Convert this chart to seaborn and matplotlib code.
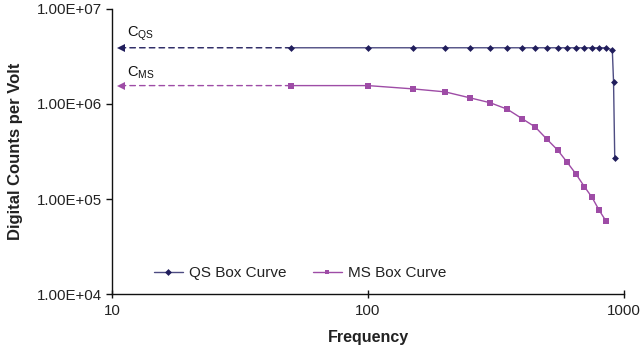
import numpy as np
import pandas as pd
import seaborn as sns
import matplotlib
matplotlib.use("Agg")
import matplotlib.pyplot as plt
from matplotlib.ticker import FixedLocator, NullLocator, FixedFormatter

# ---- data ----
qs_freq = [50, 100, 150, 200, 250, 300, 350, 400, 450, 500, 550, 600, 650,
           700, 750, 800, 850, 900, 910, 920]
qs_vals = [3.9e6, 3.9e6, 3.9e6, 3.9e6, 3.9e6, 3.9e6, 3.9e6, 3.9e6, 3.9e6,
           3.9e6, 3.9e6, 3.9e6, 3.9e6, 3.9e6, 3.9e6, 3.9e6, 3.9e6, 3.7e6,
           1.72e6, 2.68e5]
ms_freq = [50, 100, 150, 200, 250, 300, 350, 400, 450, 500, 550, 600, 650,
           700, 750, 800, 850]
ms_vals = [1.56e6, 1.56e6, 1.44e6, 1.34e6, 1.16e6, 1.03e6, 8.8e5, 7.0e5,
           5.72e5, 4.25e5, 3.28e5, 2.43e5, 1.82e5, 1.35e5, 1.04e5, 7.6e4,
           5.87e4]
x_ticks = [10, 100, 1000]
x_tick_labels = ["10", "100", "1000"]
y_ticks = [1e4, 1e5, 1e6, 1e7]
y_tick_labels = ["1.00E+04", "1.00E+05", "1.00E+06", "1.00E+07"]
series_names = ["QS Box Curve", "MS Box Curve"]
arrow_end = 10.8

QS_COLOR = "#211e5c"
QS_LINE = "#4d4c82"
MS_COLOR = "#9e4ca6"

sns.set_theme(style="white")
plt.rcParams["font.family"] = ["Liberation Sans", "DejaVu Sans"]

fig = plt.figure(figsize=(6.42, 3.56), dpi=100)
ax = fig.add_axes([0.1745, 0.174, 0.7975, 0.801])

qs_df = pd.DataFrame({"Frequency": qs_freq, "Counts": qs_vals})
ms_df = pd.DataFrame({"Frequency": ms_freq, "Counts": ms_vals})

sns.lineplot(data=qs_df, x="Frequency", y="Counts", ax=ax, color=QS_COLOR,
             marker="D", markersize=3.5, markeredgewidth=0, linewidth=1.0,
             label=series_names[0], sort=False)
sns.lineplot(data=ms_df, x="Frequency", y="Counts", ax=ax, color=MS_COLOR,
             marker="s", markersize=4, markeredgewidth=0, linewidth=1.0,
             label=series_names[1], sort=False)
ax.lines[0].set_color(QS_LINE)
ax.lines[0].set_markerfacecolor(QS_COLOR)

# dashed arrows to the axis
for freq, val, col, lab in [(qs_freq[0], qs_vals[0], QS_COLOR, r"C$_{\mathregular{QS}}$"),
                            (ms_freq[0], ms_vals[0], MS_COLOR, r"C$_{\mathregular{MS}}$")]:
    ax.annotate("", xy=(arrow_end, val), xytext=(freq, val),
                arrowprops=dict(arrowstyle="-", linestyle=(0, (4, 3)), color=col,
                                lw=1.0, shrinkA=0, shrinkB=0))
    ax.plot([arrow_end], [val], marker="<", color=col, markersize=6, markeredgewidth=0)
    ax.text(11.4, val * 1.12, lab, color="#111111", fontsize=10.5, ha="left", va="bottom")

ax.set_xscale("log")
ax.set_yscale("log")
ax.set_xlim(10, 1000)
ax.set_ylim(1e4, 1e7)
ax.xaxis.set_major_locator(FixedLocator(x_ticks))
ax.xaxis.set_major_formatter(FixedFormatter(x_tick_labels))
ax.xaxis.set_minor_locator(NullLocator())
ax.yaxis.set_major_locator(FixedLocator(y_ticks))
ax.yaxis.set_major_formatter(FixedFormatter(y_tick_labels))
ax.yaxis.set_minor_locator(NullLocator())

for s in ["top", "right"]:
    ax.spines[s].set_visible(False)
for s in ["left", "bottom"]:
    ax.spines[s].set_color("#111111")
    ax.spines[s].set_linewidth(1.0)

ax.tick_params(axis="x", direction="inout", length=6, width=1, color="#111111",
               labelsize=10.8, pad=4, bottom=True)
ax.tick_params(axis="y", direction="out", length=4, width=1, color="#111111",
               labelsize=10.8, pad=3, left=True)
for t in ax.get_xticklabels() + ax.get_yticklabels():
    t.set_color("#222222")

ax.set_xlabel("Frequency", fontsize=11.5, fontweight="bold", color="#222222", labelpad=9)
ax.set_ylabel("Digital Counts per Volt", fontsize=12, fontweight="bold", color="#222222", labelpad=10)
ax.grid(False)

leg = ax.legend(loc="lower left", bbox_to_anchor=(0.055, 0.0), ncol=2, frameon=False,
                fontsize=11, handlelength=1.9, handletextpad=0.4, columnspacing=1.7,
                labelcolor="#222222")
for h in leg.legend_handles:
    h.set_markersize(3.5)
leg.legend_handles[0].set_color(QS_LINE)
leg.legend_handles[0].set_markerfacecolor(QS_COLOR)

fig.savefig("out.png", dpi=100)
